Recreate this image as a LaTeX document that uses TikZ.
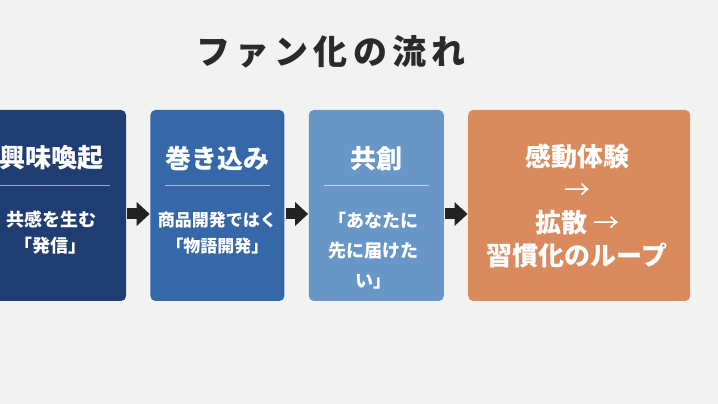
\documentclass[tikz,border=0pt]{standalone}
\usepackage{fontspec}
\setmainfont{Noto Sans CJK JP}
\usetikzlibrary{positioning}
\definecolor{bgGray}{HTML}{F2F2F2}
\definecolor{titleInk}{HTML}{2A2A2A}
\definecolor{stepNavy}{HTML}{1F3D73}
\definecolor{stepBlue}{HTML}{3567A9}
\definecolor{stepSky}{HTML}{6896C6}
\definecolor{stepOrange}{HTML}{D98B5D}
\definecolor{arrowInk}{HTML}{222222}
\tikzset{
  stagebox/.style={rounded corners=5pt, minimum height=191pt, inner sep=0pt},
  stagetitle/.style={text=white, font=\fontsize{26}{30}\selectfont\bfseries},
  stagetext/.style={text=white, align=center, font=\fontsize{18}{26}\selectfont\bfseries},
  divider/.style={draw=white, draw opacity=0.55, line width=0.8pt},
  flowshaft/.style={draw=arrowInk, line width=11pt}
}
% block arrow from the east side of #1 to the west side of #2
\newcommand{\flowarrow}[2]{%
  \draw [flowshaft] ([xshift=1pt,yshift=-8.5pt]#1.east) -- ([xshift=-12pt,yshift=-8.5pt]#2.west);
  \fill [arrowInk] ([xshift=-13.5pt,yshift=3.5pt]#2.west) -- ([xshift=-0.5pt,yshift=-8.5pt]#2.west)
    -- ([xshift=-13.5pt,yshift=-20.5pt]#2.west) -- cycle;}
\begin{document}
\begin{tikzpicture}[x=1pt, y=1pt]
        \fill [bgGray] (0,0) rectangle (718,404);
        \useasboundingbox (0,0) rectangle (718,404);
        % heading
        \node [text=titleInk, font=\fontsize{34}{40}\selectfont\bfseries\addfontfeature{LetterSpace=15}] (heading) at (331,352) {ファン化の流れ};
        % the four stages
        \node [stagebox, fill=stepNavy, minimum width=150pt] (interest) at (51,198.5) {};
        \node [stagebox, fill=stepBlue, minimum width=134pt, right=24pt of interest] (involve) {};
        \node [stagebox, fill=stepSky, minimum width=135pt, right=24pt of involve] (cocreate) {};
        \node [stagebox, fill=stepOrange, minimum width=222pt, right=24pt of cocreate] (impress) {};
        % stage 1
        \node [stagetitle] (interest-title) at ([yshift=-48.5pt]interest.north) {興味喚起};
        \draw [divider] ([xshift=-59pt,yshift=-76pt]interest.north) -- ([xshift=59pt,yshift=-76pt]interest.north);
        \node [stagetext] (interest-text) at ([yshift=-123pt]interest.north) {共感を生む\\「発信」};
        % stage 2
        \node [stagetitle] (involve-title) at ([yshift=-48.5pt]involve.north) {巻き込み};
        \draw [divider] ([xshift=-52.5pt,yshift=-76pt]involve.north) -- ([xshift=52.5pt,yshift=-76pt]involve.north);
        \node [stagetext, font=\fontsize{17}{26}\selectfont\bfseries] (involve-text) at ([yshift=-123pt]involve.north) {商品開発ではく\\「物語開発」};
        % stage 3
        \node [stagetitle] (cocreate-title) at ([yshift=-48.5pt]cocreate.north) {共創};
        \draw [divider] ([xshift=-52.5pt,yshift=-76pt]cocreate.north) -- ([xshift=52.5pt,yshift=-76pt]cocreate.north);
        \node [stagetext, font=\fontsize{18}{30}\selectfont\bfseries] (cocreate-text) at ([xshift=-3pt,yshift=-141pt]cocreate.north) {「あなたに\\先に届けた\\い」};
        % stage 4
        \node [text=white, align=center, font=\fontsize{26}{33}\selectfont\bfseries] (impress-text) at ([xshift=-2pt,yshift=-1pt]impress.center) {感動体験\\{\mdseries →}\\拡散 {\mdseries →}\\習慣化のループ};
        % arrows between stages
        \flowarrow{interest}{involve}
        \flowarrow{involve}{cocreate}
        \flowarrow{cocreate}{impress}
    \end{tikzpicture}
\end{document}
